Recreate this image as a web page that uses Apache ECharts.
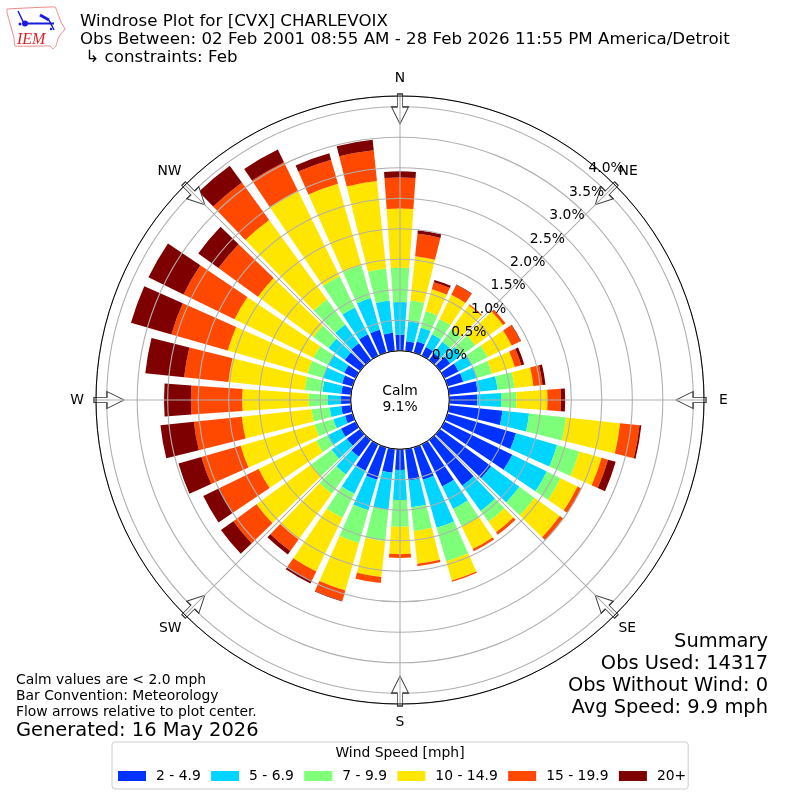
<!DOCTYPE html>
<html><head><meta charset="utf-8">
<style>html,body{margin:0;padding:0;background:#fff}#c{width:800px;height:800px}</style>
<script src="https://cdn.jsdelivr.net/npm/echarts@6/dist/echarts.min.js"></script>
</head><body><div id="c"></div>
<script>
const directions = ['0','10','20','30','40','50','60','70','80','90','100','110','120','130','140','150','160','170','180','190','200','210','220','230','240','250','260','270','280','290','300','310','320','330','340','350'];
const speedLabels = ['2 - 4.9','5 - 6.9','7 - 9.9','10 - 14.9','15 - 19.9','20+'];
const speedColors = ['#0033ff','#00d5ff','#7dff7a','#ffe600','#ff4800','#7f0000'];
const s2to5 = [.26,.16,.19,.16,.14,.21,.26,.27,.47,.46,.88,1.17,1.24,1.04,.93,.77,.55,.52,.34,.39,.55,.48,.34,.27,.27,.13,.16,.16,.16,.18,.21,.31,.34,.39,.39,.30];
const s5to7 = [.54,.33,.24,.23,.23,.23,.25,.23,.33,.39,.44,.70,.63,.57,.51,.41,.82,.44,.49,.61,.52,.42,.36,.31,.25,.20,.19,.22,.31,.33,.30,.33,.38,.49,.54,.53];
const s7to10 = [.56,.34,.28,.28,.26,.28,.28,.26,.28,.25,.61,.38,.25,.31,.22,.32,.57,.39,.44,.52,.56,.44,.39,.41,.20,.32,.30,.31,.29,.26,.26,.31,.51,.57,.56,.53];
const s10to15 = [.97,.73,.37,.44,.48,.56,.44,.39,.31,.51,.89,.38,.31,.51,.21,.41,.33,.54,.45,.59,.81,.98,.93,1.11,1.05,1.26,1.15,1.09,1.26,1.36,1.44,1.12,1.61,1.56,1.39,1.44];
const s15to20 = [.51,.37,.12,.18,.02,.05,.16,.11,.15,.22,.32,.11,.07,.07,.05,.04,.02,.04,.06,.10,.18,.17,.23,.47,.72,.67,.79,.84,.73,.96,.93,.80,.76,.52,.41,.51];
const s20plus = [.10,.06,.04,.01,0,0,.01,.05,.05,.07,.03,.13,0,0,0,0,0,0,0,0,.01,.05,.07,.25,.29,.39,.55,.44,.64,.69,.64,.41,.34,.23,.11,.17];
const speedSeries = [s2to5,s5to7,s7to10,s10to15,s15to20,s20plus];
const compass = ['N','NE','E','SE','S','SW','W','NW'];
const compassAngles = [0,45,90,135,180,225,270,315];
const arrowRadius = 3.962;
const radiusMax = 4.175;
const titleText = 'Windrose Plot for [CVX] CHARLEVOIX\nObs Between: 02 Feb 2001 08:55 AM - 28 Feb 2026 11:55 PM America/Detroit\n \u21b3 constraints: Feb';
const summaryLines = ['Summary','Obs Used: 14317','Obs Without Wind: 0','Avg Speed: 9.9 mph'];
const noteLines = ['Calm values are < 2.0 mph','Bar Convention: Meteorology','Flow arrows relative to plot center.'];
const generated = 'Generated: 16 May 2026';

const FONT = '"DejaVu Sans"';
const R = [49.3, 304];
const C = ['50%','50%'];
const arrowPath = 'path://M5.5 0 L10.5 0 L10.5 13 L16 13 L8 30 L0 13 L5.5 13 Z';

const chart = echarts.init(document.getElementById('c'), null, {renderer:'canvas'});
const txt = (x,y,text,size,align) => ({type:'text',x,y,z:50,style:{text,fill:'#000',font:size+'px '+FONT,textAlign:align||'left',textVerticalAlign:'middle'}});
const compassText = {fontFamily:FONT,fontSize:13.89,color:'#000'};
chart.setOption({
  animation:false,
  backgroundColor:'#fff',
  title:{text:titleText,left:80,top:13,padding:0,textStyle:{fontFamily:FONT,fontSize:16.67,fontWeight:'normal',color:'#000',lineHeight:18}},
  legend:{
    data:speedLabels,left:112,top:742,orient:'horizontal',
    padding:[27,2,6,6],itemGap:10.4,itemWidth:28,itemHeight:10,
    borderColor:'#ccc',borderWidth:1,borderRadius:3,backgroundColor:'#fff',
    icon:'rect',
    textStyle:{fontFamily:FONT,fontSize:13.89,color:'#000',padding:[0,0,0,5]}
  },
  polar:[
    {center:C,radius:R},
    {center:C,radius:R},
    {center:C,radius:R}
  ],
  angleAxis:[
    {polarIndex:0,type:'category',data:directions,boundaryGap:false,startAngle:90,clockwise:true,
     axisLine:{show:false},axisTick:{show:false},axisLabel:{show:false},splitLine:{show:false}},
    {polarIndex:1,type:'value',min:0,max:360,interval:45,startAngle:90,clockwise:true,z:5,
     axisLine:{show:true,lineStyle:{color:'#000',width:1}},axisTick:{show:false},
     splitLine:{show:true,lineStyle:{color:'#b0b0b0',width:1.1}},
     axisLabel:{show:true,margin:5,fontFamily:FONT,fontSize:13.89,color:'#000',
       formatter:v=>{
         const name=compass[compassAngles.indexOf(v)]||'';
         if(v%90) return '{d|'+name+'}';
         return (v%180?'{e|':'{n|')+name+'}';
       },
       rich:{
         n:{...compassText,padding:[6,0,6,0]},
         e:{...compassText,padding:[0,7,0,10]},
         d:{...compassText,padding:[3,0,3,0]}
       }}},
    {polarIndex:2,type:'value',min:0,max:360,startAngle:50,clockwise:true,show:false,
     axisLine:{show:false},axisTick:{show:false},axisLabel:{show:false},splitLine:{show:false}}
  ],
  radiusAxis:[
    {polarIndex:0,type:'value',min:0,max:radiusMax,axisLine:{show:false},axisTick:{show:false},axisLabel:{show:false},splitLine:{show:false}},
    {polarIndex:1,type:'value',min:0,max:radiusMax,interval:0.5,z:3,axisLine:{show:false},axisTick:{show:false},axisLabel:{show:false},
     splitLine:{show:true,lineStyle:{color:'#b0b0b0',width:1.1}}},
    {polarIndex:2,type:'value',min:0,max:radiusMax,interval:0.5,z:6,axisLine:{show:false},axisTick:{show:false},splitLine:{show:false},
     axisLabel:{show:true,margin:0,rotate:0,align:'left',verticalAlign:'bottom',lineHeight:13,fontFamily:FONT,fontSize:13.89,color:'#000',
       showMinLabel:true,showMaxLabel:true,hideOverlap:false,
       formatter:v=>(Math.abs(v*2-Math.round(v*2))<1e-6)?v.toFixed(1)+'%':''}}
  ],
  graphic:{elements:[
    // legend title
    txt(400,753,'Wind Speed [mph]',13.89,'center'),
    // calm
    txt(400,391,'Calm',13.89,'center'),
    txt(400,407,'9.1%',13.89,'center'),
    // summary
    ...summaryLines.map((t,i)=>txt(768,641.5+i*22,t,19.44,'right')),
    // notes
    ...noteLines.map((t,i)=>txt(16,680.5+i*16,t,13.89,'left')),
    txt(16,731,generated,19.44,'left'),
    // logo
    {type:'polyline',z:50,shape:{points:[[7,9],[55,7],[58,14],[61,22],[65,29],[60,35],[58,39],[56,46],[53,49],[50,46],[15,46],[14,38],[9,20],[7,12],[7,9]],smooth:0.1},style:{stroke:'#e88',lineWidth:1,fill:'none'}},
    {type:'line',z:50,shape:{x1:24,y1:23.5,x2:54,y2:23.5},style:{stroke:'#1a1ae0',lineWidth:2}},
    {type:'line',z:50,shape:{x1:24,y1:23.5,x2:18,y2:11},style:{stroke:'#1a1ae0',lineWidth:1.5}},
    {type:'line',z:50,shape:{x1:40,y1:15,x2:49,y2:20},style:{stroke:'#1a1ae0',lineWidth:3}},
    {type:'line',z:50,shape:{x1:49,y1:20,x2:54,y2:30},style:{stroke:'#1a1ae0',lineWidth:1.5}},
    {type:'circle',z:50,shape:{cx:25,cy:23.5,r:3},style:{fill:'#1a1ae0'}},
    {type:'circle',z:50,shape:{cx:20,cy:24,r:1.5},style:{fill:'#1a1ae0'}},
    {type:'circle',z:50,shape:{cx:51,cy:29,r:1.2},style:{fill:'#1a1ae0'}},
    {type:'text',z:50,x:17,y:39.5,style:{text:'IEM',fill:'#d22',font:'italic 16px "Liberation Serif"',textVerticalAlign:'middle'}}
  ]},
  series:[
    ...speedSeries.map((values,i)=>({
      name:speedLabels[i],type:'bar',coordinateSystem:'polar',polarIndex:0,stack:'wind',
      data:values,barWidth:'80%',z:2,silent:true,itemStyle:{color:speedColors[i]}
    })),
    {type:'scatter',coordinateSystem:'polar',polarIndex:1,z:4,silent:true,symbol:arrowPath,symbolSize:[17,30],
     symbolKeepAspect:false,
     symbolRotate:(v,p)=>-compassAngles[p.dataIndex],
     itemStyle:{color:'#fff',borderColor:'#333',borderWidth:1,opacity:1},
     data:compassAngles.map(a=>[arrowRadius,a])}
  ]
});
</script></body></html>
